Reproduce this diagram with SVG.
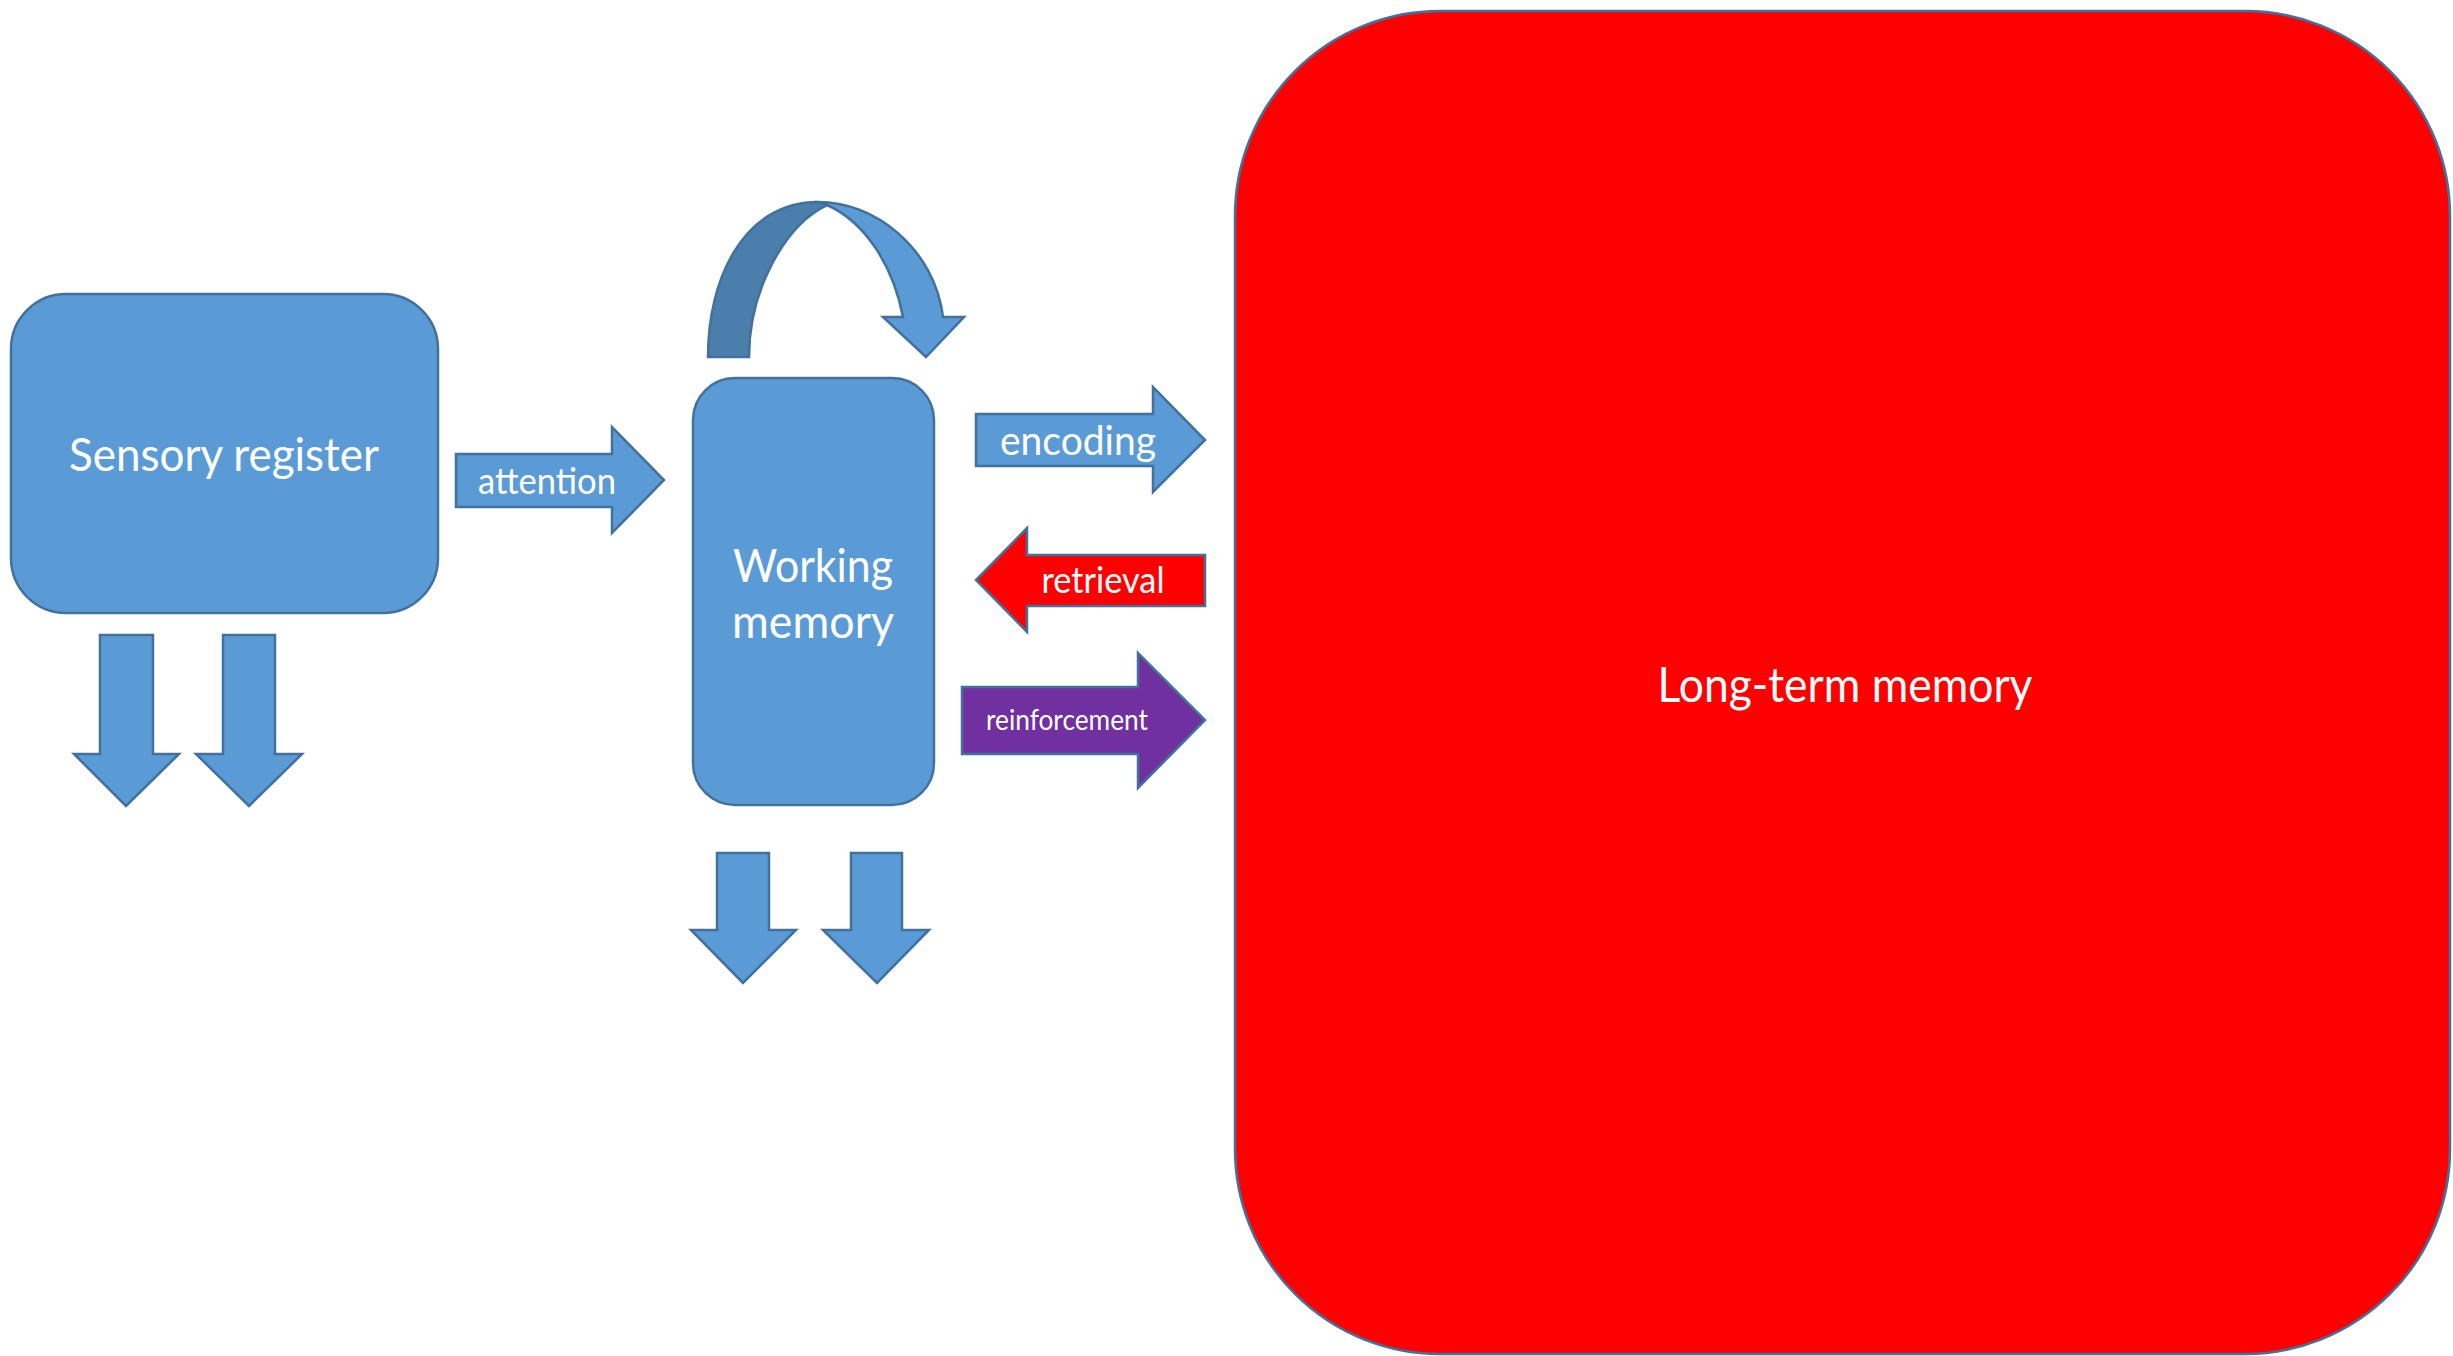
<svg xmlns="http://www.w3.org/2000/svg" width="2453" height="1356" viewBox="0 0 2453 1356">
<style>
.blue{fill:#5B9BD5;stroke:#41719C;stroke-width:2.5;stroke-linejoin:miter}
.dark{fill:#4A7EAB;stroke:#41719C;stroke-width:2.5}
.red{fill:#FF0000;stroke:#41719C;stroke-width:2.5}
.purple{fill:#7030A0;stroke:#41719C;stroke-width:2.5}
text{font-family:"Lato","Open Sans","Liberation Sans",sans-serif;fill:#FFFFFF;text-anchor:middle}
</style>
<rect width="2453" height="1356" fill="#FFFFFF"/>
<g id="long-term-memory">
<rect class="red" x="1235" y="11" width="1215" height="1343" rx="205" ry="205"/>
<text x="1845" y="702" font-size="48" textLength="375" lengthAdjust="spacingAndGlyphs">Long-term memory</text>
</g>
<g id="sensory-register">
<rect class="blue" x="11" y="294" width="427" height="319" rx="55" ry="55"/>
<text x="224" y="471" font-size="46" textLength="310" lengthAdjust="spacingAndGlyphs">Sensory register</text>
</g>
<g id="working-memory">
<rect class="blue" x="693" y="378" width="241" height="427" rx="42" ry="42"/>
<text x="813" y="582" font-size="46" textLength="160" lengthAdjust="spacingAndGlyphs">Working</text>
<text x="813" y="638" font-size="46" textLength="162" lengthAdjust="spacingAndGlyphs">memory</text>
</g>
<g id="connectors">
<g id="attention">
<path class="blue" d="M456,454 L612,454 L612,427 L664,480 L612,533 L612,507 L456,507 Z"/>
<text x="547" y="494" font-size="36" textLength="138" lengthAdjust="spacingAndGlyphs">attention</text>
</g>
<g id="encoding">
<path class="blue" d="M976,414 L1153,414 L1153,387 L1205,440 L1153,492 L1153,466 L976,466 Z"/>
<text x="1078" y="455" font-size="41" textLength="156" lengthAdjust="spacingAndGlyphs">encoding</text>
</g>
<g id="retrieval">
<path class="red" d="M1205,555 L1027,555 L1027,528 L976,580 L1027,632 L1027,606 L1205,606 Z"/>
<text x="1103" y="593" font-size="36" textLength="123" lengthAdjust="spacingAndGlyphs">retrieval</text>
</g>
<g id="reinforcement">
<path class="purple" d="M962,687 L1138,687 L1138,653 L1205,720 L1138,788 L1138,754 L962,754 Z"/>
<text x="1067" y="730" font-size="28" textLength="162" lengthAdjust="spacingAndGlyphs">reinforcement</text>
</g>
<g id="rehearsal-loop">
<path class="dark" d="M708,357 C708,280 742,205 815,202 Q822,202 827,205 C785,225 749,290 749,357 Z"/>
<path class="blue" d="M815,202 C875,200 935,250 943,317 L964,317 L926,357 L883,317 L903,317 C893,265 865,222 827,205 Q822,203 815,202 Z"/>
</g>
<g id="sensory-loss">
<path class="blue" d="M100,635 L153,635 L153,754 L179,754 L126,806 L74,754 L100,754 Z"/>
<path class="blue" d="M223,635 L275,635 L275,754 L302,754 L249,806 L196,754 L223,754 Z"/>
</g>
<g id="working-loss">
<path class="blue" d="M717,853 L769,853 L769,930 L796,930 L743,983 L691,930 L717,930 Z"/>
<path class="blue" d="M851,853 L902,853 L902,930 L929,930 L877,983 L823,930 L851,930 Z"/>
</g>
</g>
</svg>
